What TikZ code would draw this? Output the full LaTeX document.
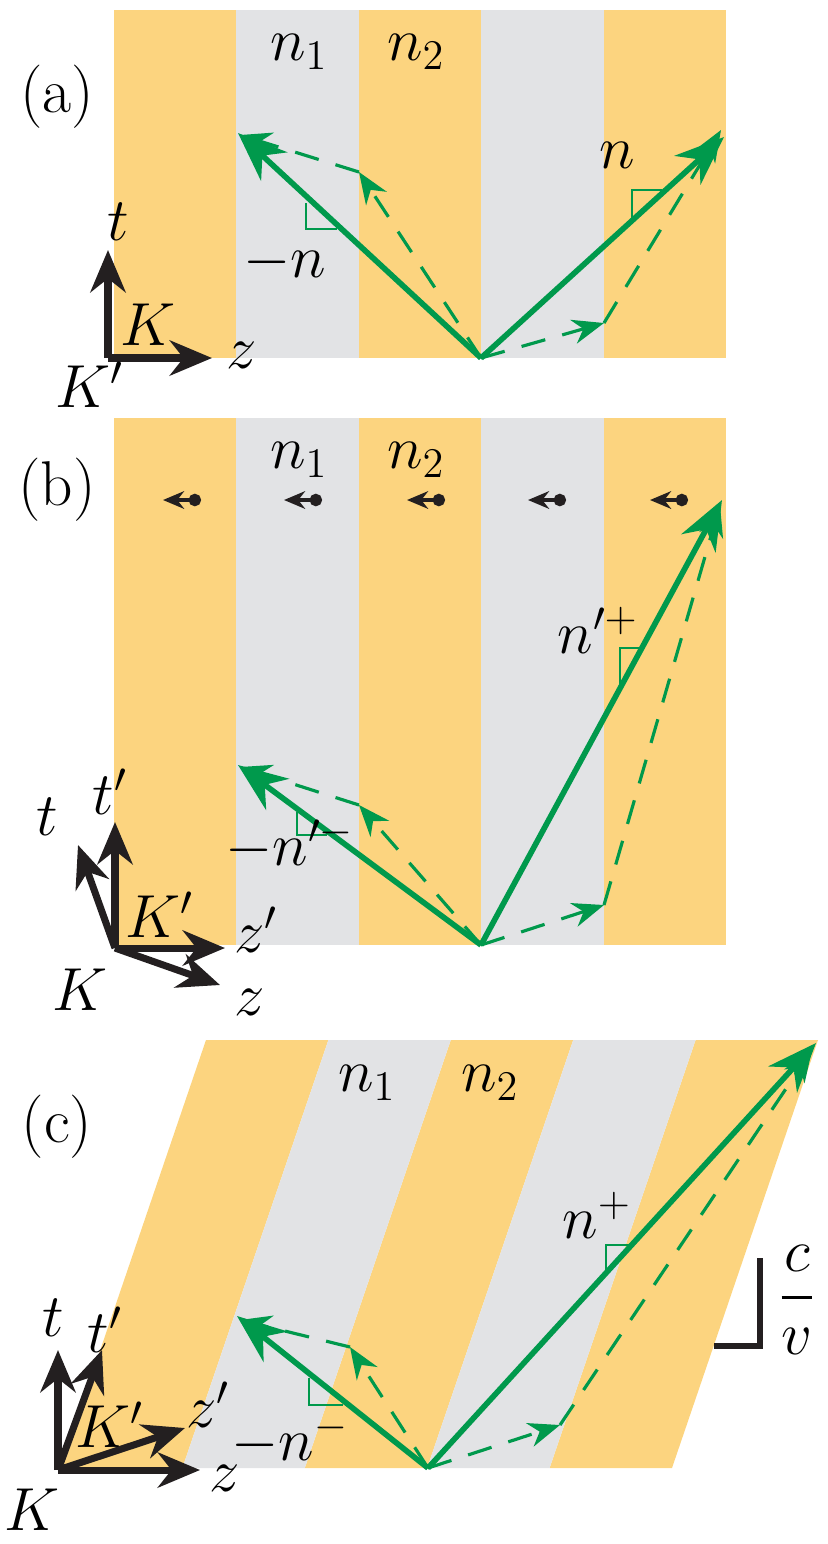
\documentclass[tikz,border=0pt]{standalone}
\usepackage{amsmath}
\usetikzlibrary{arrows.meta}
\definecolor{lorange}{HTML}{FCD47F}
\definecolor{lgray}{HTML}{E2E3E5}
\definecolor{dgreen}{HTML}{00994C}
\definecolor{axisblack}{HTML}{231F20}
\tikzset{
  ray/.style={dgreen,line width=1.6pt,-{Stealth[length=14pt,width=11pt]}},
  dray/.style={dgreen,line width=0.9pt,dashed,dash pattern=on 7pt off 5pt,-{Stealth[length=9pt,width=7pt]}},
  rmark/.style={dgreen,line width=0.8pt},
  axis/.style={axisblack,line width=2pt,-{Stealth[length=12pt,width=10pt]}},
  drift/.style={axisblack,line width=1.3pt,{Stealth[length=6pt,width=5pt]}-{Circle[length=3.5pt]}},
  lbl/.style={inner sep=0pt,font=\fontsize{18}{21}\selectfont}
}
\begin{document}
\begin{tikzpicture}[x=0.01cm,y=-0.01cm]
   \useasboundingbox (0,0) rectangle (828,1544);
   % (a)
   \foreach \i in {0,2,4} \fill[lorange] (114+122.4*\i,10) rectangle ++(122.4,348);
   \foreach \i in {1,3} \fill[lgray] (114+122.4*\i,10) rectangle ++(122.4,348);
   \coordinate (ao) at (481,358);
   \coordinate (al) at (238,133);
   \coordinate (ar) at (724,137);
   \coordinate (am) at (359,172);
   \coordinate (an) at (604,323);
   \draw[dray] (ao) -- (am);
   \draw[dray] (am) -- (240,135);
   \draw[dray] (ao) -- (an);
   \draw[dray] (an) -- (721,130);
   \draw[ray] (ao) -- (al);
   \draw[ray] (ao) -- (ar);
   \draw[rmark] (306,203) -- (306,229) -- (337,229);
   \draw[rmark] (632,219) -- (632,190) -- (662,190);
   \node[lbl] (an1) at (299,52) {$n_1$};
   \node[lbl] (an2) at (416,52) {$n_2$};
   \node[lbl] (alab) at (57,97) {(a)};
   \node[lbl] (anp) at (617,155) {$n$};
   \node[lbl] (ann) at (285,262) {$-n$};
   \coordinate (aK) at (108,358);
   \draw[axis] (aK) -- (108,250);
   \draw[axis] (aK) -- (212,358);
   \node[lbl] (at) at (118,222) {$t$};
   \node[lbl] (az) at (242,355) {$z$};
   \node[lbl] (aKl) at (148,325) {$K$};
   \node[lbl] (aKp) at (90,385) {$K'$};
   % (b)
   \foreach \i in {0,2,4} \fill[lorange] (114+122.4*\i,418) rectangle ++(122.4,527);
   \foreach \i in {1,3} \fill[lgray] (114+122.4*\i,418) rectangle ++(122.4,527);
   \foreach \x in {201,322,445,566,688} \draw[drift] (\x-38,500) -- (\x,500);
   \coordinate (bo) at (481,945);
   \coordinate (bm) at (359,805);
   \coordinate (bn) at (604,905);
   \draw[dray] (bo) -- (bm);
   \draw[dray] (bm) -- (240,767);
   \draw[dray] (bo) -- (bn);
   \draw[dray] (bn) -- (720,505);
   \draw[ray] (bo) -- (238,765);
   \draw[ray] (bo) -- (722,500);
   \draw[rmark] (297,812) -- (297,835) -- (327,835);
   \draw[rmark] (620,690) -- (620,648) -- (643,648);
   \node[lbl] (bn1) at (299,460) {$n_1$};
   \node[lbl] (bn2) at (416,460) {$n_2$};
   \node[lbl] (blab) at (57,490) {(b)};
   \node[lbl] (bnp) at (598,630) {$n'^{+}$};
   \node[lbl] (bnn) at (290,845) {$-n'^{-}$};
   \coordinate (bK) at (115,948);
   \draw[axis] (bK) -- (115,822);
   \draw[axis] (bK) -- (78,845);
   \draw[axis] (bK) -- (225,948);
   \draw[axis] (bK) -- (220,985);
   \node[lbl] (bt) at (47,817) {$t$};
   \node[lbl] (btp) at (110,792) {$t'$};
   \node[lbl] (bKp) at (160,915) {$K'$};
   \node[lbl] (bzp) at (256,930) {$z'$};
   \node[lbl] (bz) at (250,1002) {$z$};
   \node[lbl] (bKl) at (80,990) {$K$};
   % (c)
   \foreach \i in {0,2,4} \fill[lorange] (60+122.4*\i,1468) -- ++(122.4,0) -- ++(146,-428) -- ++(-122.4,0) -- cycle;
   \foreach \i in {1,3} \fill[lgray] (60+122.4*\i,1468) -- ++(122.4,0) -- ++(146,-428) -- ++(-122.4,0) -- cycle;
   \coordinate (co) at (428,1468);
   \coordinate (cm) at (350,1347);
   \coordinate (cn) at (560,1425);
   \draw[dray] (co) -- (cm);
   \draw[dray] (cm) -- (240,1320);
   \draw[dray] (co) -- (cn);
   \draw[dray] (cn) -- (812,1050);
   \draw[ray] (co) -- (237,1316);
   \draw[ray] (co) -- (816,1043);
   \draw[rmark] (309,1378) -- (309,1405) -- (343,1405);
   \draw[rmark] (606,1272) -- (606,1245) -- (633,1245);
   \node[lbl] (cn1) at (367,1083) {$n_1$};
   \node[lbl] (cn2) at (490,1083) {$n_2$};
   \node[lbl] (clab) at (57,1127) {(c)};
   \node[lbl] (cnp) at (597,1215) {$n^{+}$};
   \node[lbl] (cnn) at (290,1440) {$-n^{-}$};
   \node[lbl] (cv) at (797,1300) {$\dfrac{c}{v}$};
   \draw[axisblack,line width=1.5pt] (760,1258) -- (760,1346) -- (714,1346);
   \coordinate (cK) at (58,1470);
   \draw[axis] (cK) -- (58,1350);
   \draw[axis] (cK) -- (102,1350);
   \draw[axis] (cK) -- (185,1428);
   \draw[axis] (cK) -- (200,1470);
   \node[lbl] (ct) at (53,1318) {$t$};
   \node[lbl] (ctp) at (105,1330) {$t'$};
   \node[lbl] (cKp) at (110,1425) {$K'$};
   \node[lbl] (czp) at (208,1405) {$z'$};
   \node[lbl] (cz) at (225,1478) {$z$};
   \node[lbl] (cKl) at (32,1510) {$K$};
\end{tikzpicture}
\end{document}
